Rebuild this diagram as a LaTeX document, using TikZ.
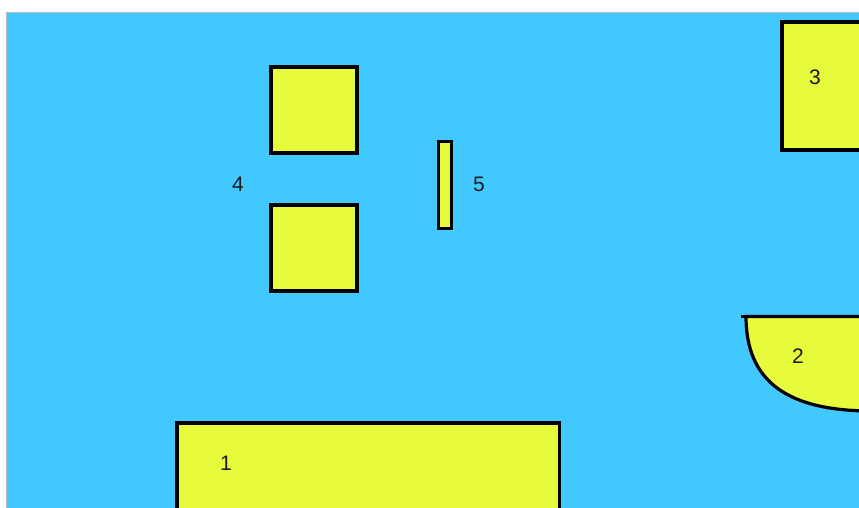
\documentclass[tikz,border=0pt]{standalone}
\usepackage{fontspec}
\setmainfont{Liberation Sans}
\begin{document}
\begin{tikzpicture}[x=1pt,y=-1pt,
  shapebox/.style={draw=black,line width=3.2pt,fill=plotyellow},
  lbl/.style={font=\fontsize{21}{25}\selectfont,text=black!90,inner sep=0pt}]
\definecolor{plotblue}{HTML}{40C8FF}
\definecolor{plotyellow}{HTML}{E8FA3C}
\useasboundingbox (0,0) rectangle (859,508);
\clip (0,0) rectangle (859,508);
\fill[white] (0,0) rectangle (859,508);
\fill[plotblue] (6.5,12.5) rectangle (870,520);
\draw[gray!55,line width=1pt] (6.5,520) -- (6.5,12.5) -- (870,12.5);
% shapes
\path[shapebox] (271,67) rectangle (357,153);
\path[shapebox] (271,205) rectangle (357,291);
\path[shapebox] (438.5,141.5) rectangle (451.5,228.5);
\path[shapebox] (782,22) rectangle (880,150);
\path[shapebox] (177,423) rectangle (559.5,530);
\path[shapebox] (746,316.5) .. controls (746,382) and (788,411) .. (872,411) -- (880,316.5) -- cycle;
\draw[line width=3.2pt] (741,316.5) -- (880,316.5);
% labels
\node[lbl] (l4) at (238,184) {4};
\node[lbl] (l5) at (479,184) {5};
\node[lbl] (l3) at (815,77) {3};
\node[lbl] (l2) at (798,356) {2};
\node[lbl] (l1) at (226,463) {1};
\end{tikzpicture}
\end{document}
